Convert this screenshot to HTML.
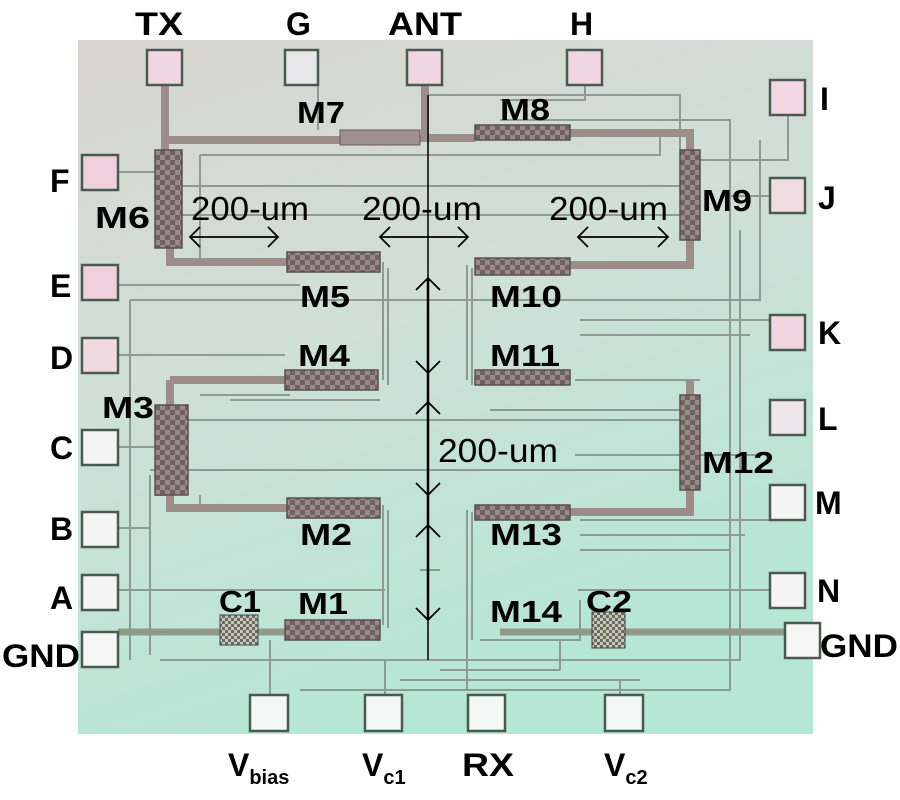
<!DOCTYPE html>
<html><head><meta charset="utf-8"><style>
html,body{margin:0;padding:0;background:#fff;width:900px;height:800px;overflow:hidden}
svg{display:block}
text{font-family:"Liberation Sans",sans-serif}
.b{font-weight:bold;font-size:32px;fill:#000}
.m{font-weight:bold;font-size:31px;fill:#000}
.u{font-size:33px;fill:#000}
</style></head><body>
<svg width="900" height="800" viewBox="0 0 900 800" xmlns="http://www.w3.org/2000/svg">
<defs>
<linearGradient id="chip" x1="0" y1="0" x2="0.35" y2="1">
<stop offset="0" stop-color="#d8d4d0"/>
<stop offset="0.45" stop-color="#d0dfd8"/>
<stop offset="1" stop-color="#b6e6d6"/>
</linearGradient>
<pattern id="chk" width="10" height="10" patternUnits="userSpaceOnUse">
<rect width="10" height="10" fill="#9a8a8a"/>
<rect width="5" height="5" fill="#6e6262"/><rect x="5" y="5" width="5" height="5" fill="#6e6262"/>
</pattern>
<pattern id="cap" width="6" height="6" patternUnits="userSpaceOnUse">
<rect width="6" height="6" fill="#6a6a62"/>
<rect width="3" height="3" fill="#c8c8b8"/><rect x="3" y="3" width="3" height="3" fill="#c8c8b8"/>
</pattern>
</defs>
<rect x="78" y="40" width="735" height="694" fill="url(#chip)"/>

<g stroke="#8e9a94" stroke-width="2" fill="none">
<path d="M318 68 V130 M425 95 H680 V150 M585 85 V100 H500 M500 120 H730 V240 M200 155 H660 V135"/>
<path d="M200 155 V260 M170 186 H680 M170 215 H690 M118 172 H155"/>
<path d="M788 115 V160 H700 M770 196 H720 M118 285 H300 M130 300 H760 V140 M130 300 V660"/>
<path d="M118 355 H285 M200 395 H290 M188 420 H680 M118 447 H155 M150 470 H680 M575 455 H760"/>
<path d="M383 262 V380 M388 268 V385 M467 265 V380 M472 268 V385 M467 510 V690 M472 512 V640"/>
<path d="M383 505 V625 M388 510 V628 M200 495 V510 M700 380 H690 M575 380 H690 V395"/>
<path d="M118 528 H150 M150 475 V655 M118 590 H220 M580 320 H770 M580 335 H750 M580 520 H770 M580 535 H745 M580 550 H730"/>
<path d="M740 230 V660 H160 M730 150 V690 H300 M118 590 H385 M578 590 H770 M480 640 H580 V600"/>
<path d="M270 640 V695 M385 660 V695 M620 680 V695 M400 680 H640 M560 640 V670 M440 670 H560"/>
<path d="M230 400 H380 M155 495 H170 M490 410 H690 M420 570 H440"/>
</g>
<g stroke="#9c8c8a" stroke-width="8" fill="none">
<path d="M165 85 V150 M165 140 H345 M345 138 H475 M425 85 V138 M570 133 H690 V150"/>
<path d="M170 248 V262 H290 M690 240 V265 H570 M170 380 H285 M170 405 V380 M690 395 V380"/>
<path d="M170 495 V508 H290 M690 490 V512 H570"/>
</g>
<g stroke="#909a88" stroke-width="7" fill="none">
<path d="M118 632 H220 M258 632 H285 M500 632 H592 M625 632 H785"/>
</g>
<g stroke="#4a5a50" stroke-width="2.5">
<rect x="147" y="50" width="35" height="35" fill="#f0d6e0"/>
<rect x="285" y="50" width="33" height="35" fill="#e8e8ea"/>
<rect x="407" y="50" width="35" height="35" fill="#f0d6e0"/>
<rect x="567" y="50" width="35" height="35" fill="#f0d6e0"/>
<rect x="770" y="80" width="35" height="35" fill="#f2d6e2"/>
<rect x="770" y="178" width="35" height="35" fill="#f0dde4"/>
<rect x="770" y="315" width="35" height="35" fill="#f0d6e0"/>
<rect x="770" y="400" width="35" height="35" fill="#eee6ea"/>
<rect x="770" y="485" width="35" height="35" fill="#f4f4f4"/>
<rect x="770" y="573" width="35" height="35" fill="#f4f4f4"/>
<rect x="785" y="623" width="35" height="35" fill="#f6f6f6"/>
<rect x="82" y="155" width="36" height="35" fill="#f0d0dc"/>
<rect x="82" y="265" width="36" height="35" fill="#f0d0dc"/>
<rect x="82" y="338" width="36" height="35" fill="#eedae0"/>
<rect x="82" y="430" width="36" height="35" fill="#f4f4f4"/>
<rect x="82" y="512" width="36" height="35" fill="#f4f4f4"/>
<rect x="82" y="575" width="36" height="35" fill="#f4f4f4"/>
<rect x="82" y="632" width="36" height="35" fill="#f6f6f6"/>
<rect x="250" y="695" width="38" height="36" fill="#f2f8f6"/>
<rect x="365" y="695" width="37" height="36" fill="#f2f8f6"/>
<rect x="468" y="695" width="37" height="36" fill="#f2f8f6"/>
<rect x="605" y="695" width="38" height="36" fill="#f2f8f6"/>
</g>
<g stroke="#5a5050" stroke-width="1.5" fill="url(#chk)">
<rect x="155" y="150" width="27" height="98"/>
<rect x="680" y="150" width="20" height="90"/>
<rect x="155" y="405" width="33" height="90"/>
<rect x="680" y="395" width="20" height="95"/>
<rect x="287" y="252" width="93" height="20"/>
<rect x="475" y="258" width="95" height="17"/>
<rect x="285" y="370" width="93" height="20"/>
<rect x="475" y="370" width="95" height="15"/>
<rect x="287" y="498" width="93" height="20"/>
<rect x="475" y="505" width="95" height="15"/>
<rect x="285" y="620" width="95" height="20"/>
<rect x="475" y="125" width="95" height="15"/>
</g>
<rect x="340" y="130" width="80" height="15" fill="#a09090" stroke="#6a5a5a"/>
<rect x="220" y="615" width="38" height="30" fill="url(#cap)" stroke="#444"/>
<rect x="592" y="612" width="33" height="36" fill="url(#cap)" stroke="#444"/>

<g stroke="#000" stroke-width="1.8" fill="none">
<path d="M190 237 H278 M200 227 L190 237 L200 247 M268 227 L278 237 L268 247"/>
<path d="M380 237 H468 M390 227 L380 237 L390 247 M458 227 L468 237 L458 247"/>
<path d="M578 237 H668 M588 227 L578 237 L588 247 M658 227 L668 237 L658 247"/>
<path d="M428 95 V660" stroke-width="1.5"/>
<path d="M428 278 V620" stroke-width="2.5"/>
<path d="M416 290 L428 278 L440 290 M416 361 L428 373 L440 361"/>
<path d="M416 414 L428 402 L440 414 M416 483 L428 495 L440 483"/>
<path d="M416 537 L428 525 L440 537 M416 608 L428 620 L440 608"/>
</g>
<text class="u" x="191" y="220" textLength="118" lengthAdjust="spacingAndGlyphs">200-um</text>
<text class="u" x="362" y="220" textLength="120" lengthAdjust="spacingAndGlyphs">200-um</text>
<text class="u" x="549" y="220" textLength="119" lengthAdjust="spacingAndGlyphs">200-um</text>
<text class="u" x="438" y="462" textLength="120" lengthAdjust="spacingAndGlyphs">200-um</text>

<g class="m">
<text class="m" x="297" y="123" textLength="48" lengthAdjust="spacingAndGlyphs">M7</text>
<text class="m" x="500" y="120" textLength="50" lengthAdjust="spacingAndGlyphs">M8</text>
<text class="m" x="95" y="228" textLength="55" lengthAdjust="spacingAndGlyphs">M6</text>
<text class="m" x="702" y="211" textLength="50" lengthAdjust="spacingAndGlyphs">M9</text>
<text class="m" x="300" y="307" textLength="50" lengthAdjust="spacingAndGlyphs">M5</text>
<text class="m" x="490" y="307" textLength="72" lengthAdjust="spacingAndGlyphs">M10</text>
<text class="m" x="298" y="366" textLength="52" lengthAdjust="spacingAndGlyphs">M4</text>
<text class="m" x="490" y="366" textLength="70" lengthAdjust="spacingAndGlyphs">M11</text>
<text class="m" x="102" y="418" textLength="52" lengthAdjust="spacingAndGlyphs">M3</text>
<text class="m" x="702" y="473" textLength="72" lengthAdjust="spacingAndGlyphs">M12</text>
<text class="m" x="300" y="545" textLength="52" lengthAdjust="spacingAndGlyphs">M2</text>
<text class="m" x="490" y="545" textLength="72" lengthAdjust="spacingAndGlyphs">M13</text>
<text class="m" x="219" y="612" textLength="42" lengthAdjust="spacingAndGlyphs">C1</text>
<text class="m" x="298" y="614" textLength="50" lengthAdjust="spacingAndGlyphs">M1</text>
<text class="m" x="490" y="622" textLength="72" lengthAdjust="spacingAndGlyphs">M14</text>
<text class="m" x="586" y="612" textLength="46" lengthAdjust="spacingAndGlyphs">C2</text>
</g>

<text class="b" x="135" y="35" textLength="48" lengthAdjust="spacingAndGlyphs">TX</text>
<text class="b" x="286" y="35">G</text>
<text class="b" x="388" y="35" textLength="74" lengthAdjust="spacingAndGlyphs">ANT</text>
<text class="b" x="570" y="35">H</text>
<text class="b" x="820" y="110">I</text>
<text class="b" x="818" y="209">J</text>
<text class="b" x="818" y="344">K</text>
<text class="b" x="818" y="430">L</text>
<text class="b" x="815" y="514">M</text>
<text class="b" x="817" y="602">N</text>
<text class="b" x="820" y="657" textLength="78" lengthAdjust="spacingAndGlyphs">GND</text>
<text class="b" x="50" y="192">F</text>
<text class="b" x="50" y="297">E</text>
<text class="b" x="50" y="369">D</text>
<text class="b" x="50" y="459">C</text>
<text class="b" x="50" y="540">B</text>
<text class="b" x="50" y="609">A</text>
<text class="b" x="2" y="667" textLength="78" lengthAdjust="spacingAndGlyphs">GND</text>
<text class="b" x="228" y="776">V<tspan font-size="20" dy="8">bias</tspan></text>
<text class="b" x="362" y="776">V<tspan font-size="20" dy="8">c1</tspan></text>
<text class="b" x="462" y="776" textLength="52" lengthAdjust="spacingAndGlyphs">RX</text>
<text class="b" x="604" y="776">V<tspan font-size="20" dy="8">c2</tspan></text>
</svg>
</body></html>
